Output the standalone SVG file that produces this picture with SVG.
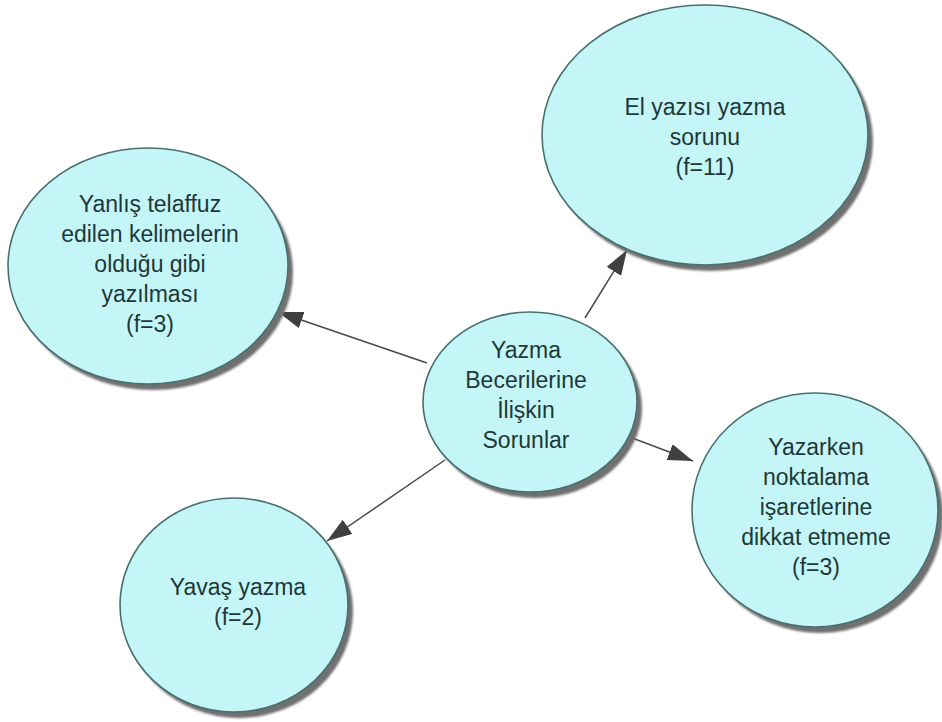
<svg xmlns="http://www.w3.org/2000/svg" width="942" height="722" viewBox="0 0 942 722">
<style>
.node{fill:#c4f6f8;stroke:#48706f;stroke-width:1.6}
.shadow{fill:#6f6f6f}
.lbl{font-family:"Liberation Sans",Arial,sans-serif;font-size:23px;fill:#1e3838;text-anchor:middle}
.conn{stroke:#4a4a4a;stroke-width:1.5;fill:none;marker-end:url(#arr)}
</style>
<defs>
<filter id="blur" x="-10%" y="-10%" width="120%" height="120%"><feGaussianBlur stdDeviation="1.2"/></filter>
<marker id="arr" markerUnits="userSpaceOnUse" markerWidth="26" markerHeight="18" refX="25" refY="8.5" orient="auto"><path d="M0,0 L25,8.5 L0,17 z" fill="#404040"/></marker>
</defs>
<rect width="942" height="722" fill="#ffffff"/>
<g id="connectors">
<line class="conn" x1="585" y1="318" x2="627" y2="250"/>
<line class="conn" x1="427" y1="363" x2="278" y2="312"/>
<line class="conn" x1="627" y1="436" x2="693" y2="461"/>
<line class="conn" x1="445" y1="460" x2="327" y2="541"/>
</g>
<g id="node-center">
<ellipse class="shadow" cx="535" cy="408" rx="107" ry="90" filter="url(#blur)"/>
<ellipse class="node" cx="530" cy="402" rx="107" ry="90"/>
<text class="lbl" x="526" y="358">Yazma</text>
<text class="lbl" x="526" y="388">Becerilerine</text>
<text class="lbl" x="526" y="418">İlişkin</text>
<text class="lbl" x="526" y="448">Sorunlar</text>
</g>
<g id="node-elyazisi">
<ellipse class="shadow" cx="710" cy="141" rx="163" ry="130" filter="url(#blur)"/>
<ellipse class="node" cx="705" cy="135" rx="163" ry="130"/>
<text class="lbl" x="705" y="115">El yazısı yazma</text>
<text class="lbl" x="705" y="145">sorunu</text>
<text class="lbl" x="705" y="175">(f=11)</text>
</g>
<g id="node-yanlis">
<ellipse class="shadow" cx="153" cy="272" rx="140" ry="118" filter="url(#blur)"/>
<ellipse class="node" cx="148" cy="266" rx="140" ry="118"/>
<text class="lbl" x="150" y="212">Yanlış telaffuz</text>
<text class="lbl" x="150" y="242">edilen kelimelerin</text>
<text class="lbl" x="150" y="272">olduğu gibi</text>
<text class="lbl" x="150" y="302">yazılması</text>
<text class="lbl" x="150" y="332">(f=3)</text>
</g>
<g id="node-yazarken">
<ellipse class="shadow" cx="820" cy="516" rx="123" ry="117" filter="url(#blur)"/>
<ellipse class="node" cx="815" cy="510" rx="123" ry="117"/>
<text class="lbl" x="816" y="455">Yazarken</text>
<text class="lbl" x="816" y="485">noktalama</text>
<text class="lbl" x="816" y="515">işaretlerine</text>
<text class="lbl" x="816" y="545">dikkat etmeme</text>
<text class="lbl" x="816" y="575">(f=3)</text>
</g>
<g id="node-yavas">
<ellipse class="shadow" cx="239" cy="611" rx="114" ry="107" filter="url(#blur)"/>
<ellipse class="node" cx="234" cy="605" rx="114" ry="107"/>
<text class="lbl" x="238" y="595">Yavaş yazma</text>
<text class="lbl" x="238" y="625">(f=2)</text>
</g>
</svg>
